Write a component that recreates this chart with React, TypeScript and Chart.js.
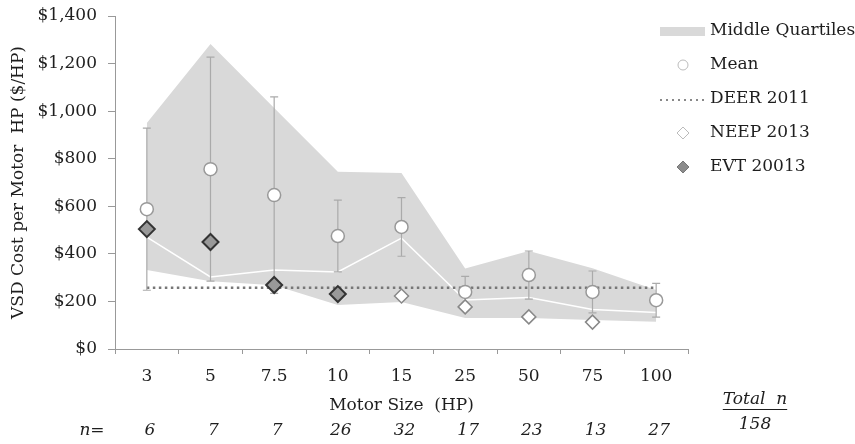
import { useEffect, useRef } from "react";
import { Chart, registerables } from "chart.js";

Chart.register(...registerables);

const motorSizes = ["3", "5", "7.5", "10", "15", "25", "50", "75", "100"];
const quartileUpper = [950, 1282, 1013, 745, 740, 338, 412, 340, 248];
const quartileLower = [332, 285, 268, 185, 198, 130, 130, 122, 115];
const medianCost = [470, 303, 332, 324, 466, 206, 216, 166, 153];
const meanCost = [588, 756, 647, 475, 513, 240, 311, 240, 205];
const meanError = [341, 471, 413, 151, 123, 65, 101, 88, 71];
const deer2011 = [257, 257, 257, 257, 257, 257, 257, 257, 257];
const neep2013 = [null, null, null, null, 223, 177, 135, 113, null];
const evt2013 = [504, 450, 269, 231, null, null, null, null, null];
const sampleCounts = ["6", "7", "7", "26", "32", "17", "23", "13", "27"];
const totalN = "158";

const FONT = "'DejaVu Serif', 'Liberation Serif', serif";
const TEXT = "#1e1e1e";

const errorBarPlugin = {
  id: "errorBars",
  afterDatasetDraw(chart: any, args: any) {
    if (chart.data.datasets[args.index].label !== "DEER 2011") return;
    const { ctx, scales } = chart;
    const x = scales.x;
    const y = scales.y;
    ctx.save();
    ctx.strokeStyle = "#aaaaaa";
    ctx.lineWidth = 1.2;
    meanCost.forEach((m, i) => {
      const px = x.getPixelForValue(i);
      const top = y.getPixelForValue(m + meanError[i]);
      const bot = y.getPixelForValue(m - meanError[i]);
      ctx.beginPath();
      ctx.moveTo(px, top);
      ctx.lineTo(px, bot);
      ctx.moveTo(px - 4, top);
      ctx.lineTo(px + 4, top);
      ctx.moveTo(px - 4, bot);
      ctx.lineTo(px + 4, bot);
      ctx.stroke();
    });
    ctx.restore();
  },
};

const extrasPlugin = {
  id: "extras",
  afterDraw(chart: any) {
    const { ctx, scales } = chart;
    const x = scales.x;
    ctx.save();
    // legend
    const lx = 660;
    const tx = 710;
    const rows = [31, 65, 99, 133, 167];
    ctx.font = `17px ${FONT}`;
    ctx.fillStyle = TEXT;
    ctx.textBaseline = "middle";
    ctx.textAlign = "left";
    const labels = ["Middle Quartiles", "Mean", "DEER 2011", "NEEP 2013", "EVT 20013"];
    labels.forEach((t, i) => ctx.fillText(t, tx, rows[i]));
    // band swatch
    ctx.fillStyle = "#d9d9d9";
    ctx.fillRect(lx, rows[0] - 4, 45, 9);
    // mean marker
    ctx.beginPath();
    ctx.arc(683, rows[1], 5, 0, Math.PI * 2);
    ctx.fillStyle = "#fff";
    ctx.fill();
    ctx.strokeStyle = "#bbbbbb";
    ctx.lineWidth = 1;
    ctx.stroke();
    // deer dotted
    ctx.beginPath();
    ctx.setLineDash([2, 4]);
    ctx.strokeStyle = "#888";
    ctx.lineWidth = 2;
    ctx.moveTo(lx, rows[2] + 1);
    ctx.lineTo(lx + 45, rows[2] + 1);
    ctx.stroke();
    ctx.setLineDash([]);
    const diamond = (cx: number, cy: number, r: number) => {
      ctx.beginPath();
      ctx.moveTo(cx, cy - r);
      ctx.lineTo(cx + r, cy);
      ctx.lineTo(cx, cy + r);
      ctx.lineTo(cx - r, cy);
      ctx.closePath();
    };
    diamond(683, rows[3], 6);
    ctx.fillStyle = "#fff";
    ctx.fill();
    ctx.strokeStyle = "#bbbbbb";
    ctx.lineWidth = 1;
    ctx.stroke();
    diamond(683, rows[4], 6);
    ctx.fillStyle = "#8c8c8c";
    ctx.fill();
    ctx.strokeStyle = "#777";
    ctx.stroke();

    // n row
    ctx.fillStyle = TEXT;
    ctx.font = `italic 17px ${FONT}`;
    ctx.textAlign = "center";
    ctx.fillText("n=", 92, 431);
    sampleCounts.forEach((n, i) => {
      ctx.fillText(n, x.getPixelForValue(i) + 3, 431);
    });
    // total n
    ctx.fillText("Total  n", 755, 400);
    const w = ctx.measureText("Total  n").width;
    ctx.beginPath();
    ctx.strokeStyle = TEXT;
    ctx.lineWidth = 1;
    ctx.moveTo(755 - w / 2, 409.5);
    ctx.lineTo(755 + w / 2, 409.5);
    ctx.stroke();
    ctx.fillText(totalN, 755, 425);
    ctx.restore();
  },
};

export default function App() {
  const ref = useRef<HTMLCanvasElement>(null);
  useEffect(() => {
    if (!ref.current) return;
    const chart = new Chart(ref.current, {
      type: "line",
      data: {
        labels: motorSizes,
        datasets: [
          {
            label: "Middle Quartiles",
            data: quartileUpper,
            borderWidth: 0,
            pointRadius: 0,
            backgroundColor: "#d9d9d9",
            borderColor: "rgba(0,0,0,0)",
            fill: "+1",
            tension: 0,
            order: 8,
          },
          {
            label: "Lower Quartile",
            data: quartileLower,
            borderWidth: 0,
            pointRadius: 0,
            borderColor: "rgba(0,0,0,0)",
            fill: false,
            order: 9,
          },
          {
            label: "Median",
            data: medianCost,
            borderColor: "#ffffff",
            borderWidth: 1.5,
            pointRadius: 0,
            fill: false,
            order: 7,
          },
          {
            label: "DEER 2011",
            data: deer2011,
            borderColor: "#777777",
            borderWidth: 2.5,
            borderDash: [2.5, 3.5],
            pointRadius: 0,
            fill: false,
            order: 6,
          },
          {
            label: "Mean",
            data: meanCost,
            showLine: false,
            pointRadius: 6.5,
            pointBackgroundColor: "#ffffff",
            pointBorderColor: "#999999",
            pointBorderWidth: 1.5,
            order: 3,
          },
          {
            label: "NEEP 2013",
            data: neep2013,
            showLine: false,
            pointStyle: "rectRot",
            pointRadius: 7,
            pointBackgroundColor: "#ffffff",
            pointBorderColor: "#888888",
            pointBorderWidth: 1.5,
            order: 2,
          },
          {
            label: "EVT 20013",
            data: evt2013,
            showLine: false,
            pointStyle: "rectRot",
            pointRadius: 8,
            pointBackgroundColor: "#999999",
            pointBorderColor: "#333333",
            pointBorderWidth: 2,
            order: 1,
          },
        ],
      },
      options: {
        animation: false,
        responsive: false,
        layout: { padding: { top: 16, right: 167, left: 0, bottom: 0 } },
        plugins: { legend: { display: false }, tooltip: { enabled: false } },
        scales: {
          x: {
            offset: true,
            afterFit: (s: any) => {
              s.height = 95;
              s.paddingLeft = 0;
              s.paddingRight = 0;
            },
            grid: {
              offset: true,
              drawOnChartArea: false,
              color: "#999",
              tickLength: 5,
            },
            border: { color: "#999", width: 1 },
            ticks: { color: TEXT, font: { family: FONT, size: 17 }, padding: 12 },
            title: {
              display: true,
              text: "Motor Size  (HP)",
              color: TEXT,
              font: { family: FONT, size: 17 },
              padding: { top: 0, bottom: 28 },
            },
          },
          y: {
            min: 0,
            max: 1400,
            afterFit: (s: any) => {
              s.width = 115;
              s.paddingTop = 0;
              s.paddingBottom = 0;
            },
            grid: { drawOnChartArea: false, color: "#999", tickLength: 7 },
            border: { color: "#999", width: 1 },
            ticks: {
              stepSize: 200,
              color: TEXT,
              padding: 11,
              font: { family: FONT, size: 17 },
              callback: (v: any) => "$" + Number(v).toLocaleString("en-US"),
            },
            title: {
              display: true,
              text: "VSD Cost per Motor  HP ($/HP)",
              color: TEXT,
              font: { family: FONT, size: 17 },
              padding: { top: 8, bottom: 0 },
            },
          },
        },
      },
      plugins: [errorBarPlugin, extrasPlugin],
    });
    return () => chart.destroy();
  }, []);
  return (
    <canvas
      ref={ref}
      width={855}
      height={444}
      style={{ position: "absolute", left: 0, top: 0, display: "block" }}
    />
  );
}
